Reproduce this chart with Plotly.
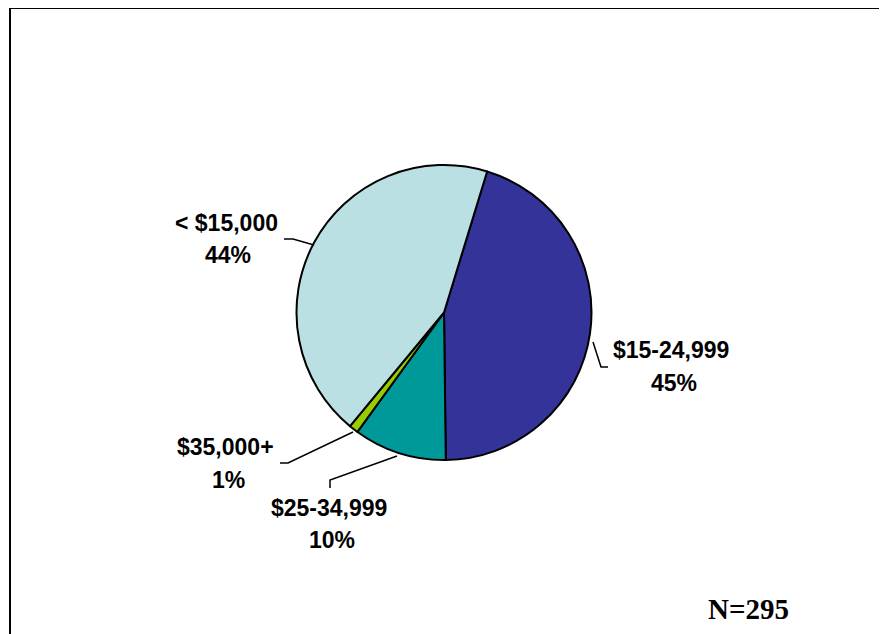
import plotly.graph_objects as go

# datos del grafico (N=295)
categorias = ['$15-24,999', '$25-34,999', '$35,000+', '< $15,000']
conteos = [133, 30, 3, 129]
colores = ['#333399', '#009999', '#99CC00', '#BBE0E3']
total_n = 295

W, H = 887, 634
OFF = 8  # margen del body de la pagina

def px(x):
     return (x - OFF) / W

def py(y):
     return 1 - (y - OFF) / H

# posicion de etiquetas (centro en pixeles): linea 1 y linea 2
pos_etiquetas = [
     ((671, 350), (674, 383)),
     ((329, 508), (332, 540)),
     ((225, 447), (228, 480)),
     ((226, 223), (228, 255)),
]
# lineas guia (pixeles)
guias = [
     [(593, 342), (601, 367), (608, 367)],
     [(397, 456), (330, 480), (330, 488)],
     [(353, 432), (288, 463), (280, 463)],
     [(314, 245), (293, 239), (284, 239)],
]

fig = go.Figure(go.Pie(
     labels=categorias,
     values=conteos,
     sort=False,
     direction='clockwise',
     rotation=17,
     marker=dict(colors=colores, line=dict(color='black', width=2)),
     textinfo='none',
     hoverinfo='label+percent',
     showlegend=False,
     domain=dict(x=[px(296.5), px(591.5)], y=[py(460), py(165)]),
))

anotaciones = []
for cat, n, (l1, l2) in zip(categorias, conteos, pos_etiquetas):
     pct = round(100 * n / sum(conteos))
     for texto, (x, y) in ((cat, l1), (f'{pct}%', l2)):
          anotaciones.append(dict(
               text='<b>' + texto.replace('<', '&lt;') + '</b>',
               x=px(x), y=py(y), xref='paper', yref='paper',
               xanchor='center', yanchor='middle', showarrow=False,
               font=dict(family='Arial, Liberation Sans', size=23, color='black'),
          ))
anotaciones.append(dict(
     text=f'<b>N={total_n}</b>', x=px(748), y=py(609), xref='paper', yref='paper',
     xanchor='center', yanchor='middle', showarrow=False,
     font=dict(family='Times New Roman, Liberation Serif', size=29, color='black'),
))

formas = []
for g in guias:
     path = 'M ' + ' L '.join(f'{px(x)},{py(y)}' for x, y in g)
     formas.append(dict(type='path', path=path, xref='paper', yref='paper',
                        line=dict(color='black', width=1.5)))
# borde del area del grafico (recortado a la derecha y abajo)
formas.append(dict(type='rect', xref='paper', yref='paper',
                   x0=px(10), x1=px(W + 40), y0=py(H + 40), y1=py(8),
                   line=dict(color='black', width=2)))

fig.update_layout(
     width=W, height=H,
     margin=dict(l=0, r=0, t=0, b=0),
     paper_bgcolor='white',
     plot_bgcolor='white',
     annotations=anotaciones,
     shapes=formas,
)

fig.write_html("out.html")
